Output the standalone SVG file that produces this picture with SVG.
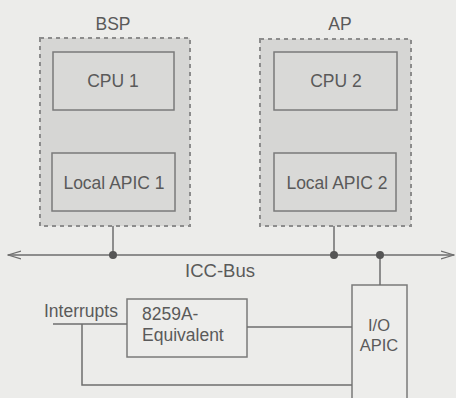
<svg xmlns="http://www.w3.org/2000/svg" width="456" height="398" viewBox="0 0 456 398">
<style>
.t{font-family:"Liberation Sans",Arial,sans-serif;font-size:17.5px;fill:#5a5a5a}
.grp{fill:#d6d6d4;stroke:#8c8c8c;stroke-width:2;stroke-dasharray:4 4}
.box{fill:#d9d9d7;stroke:#7a7a7a;stroke-width:1.5}
.wbox{fill:#ededeb;stroke:#7a7a7a;stroke-width:1.5}
.ln{stroke:#6e6e6e;stroke-width:1.5;fill:none}
.dot{fill:#555}
</style>
<defs>
<marker id="arr" markerWidth="14" markerHeight="10" refX="13" refY="5" orient="auto-start-reverse" markerUnits="userSpaceOnUse">
<path d="M0,1 L13,5 L0,9" fill="none" stroke="#6e6e6e" stroke-width="1.3"/>
</marker>
</defs>
<rect width="456" height="398" fill="#ececea"/>
<g id="bsp">
<text class="t" x="113" y="30" text-anchor="middle">BSP</text>
<rect class="grp" x="40" y="38" width="150" height="188"/>
</g>
<g id="cpu1">
<rect class="box" x="53" y="52" width="121" height="58"/>
<text class="t" x="113" y="87" text-anchor="middle">CPU 1</text>
</g>
<g id="lapic1">
<rect class="box" x="52" y="153" width="123" height="58"/>
<text class="t" x="114" y="189" text-anchor="middle">Local APIC 1</text>
</g>
<g id="ap">
<text class="t" x="340" y="30" text-anchor="middle">AP</text>
<rect class="grp" x="260" y="39" width="151" height="187"/>
</g>
<g id="cpu2">
<rect class="box" x="274" y="52" width="123" height="58"/>
<text class="t" x="336" y="87" text-anchor="middle">CPU 2</text>
</g>
<g id="lapic2">
<rect class="box" x="274" y="153" width="122" height="58"/>
<text class="t" x="337" y="189" text-anchor="middle">Local APIC 2</text>
</g>
<g id="pic">
<rect class="wbox" x="127" y="299" width="120" height="58"/>
<text class="t" x="142" y="320">8259A-</text>
<text class="t" x="142" y="341">Equivalent</text>
</g>
<g id="ioapic">
<rect class="wbox" x="352" y="285" width="55" height="120"/>
<text class="t" x="379" y="331" text-anchor="middle" style="font-size:16.5px">I/O</text>
<text class="t" x="379" y="351" text-anchor="middle" style="font-size:16.5px">APIC</text>
</g>
<g id="interrupts">
<text class="t" x="44" y="317">Interrupts</text>
</g>
<g id="connectors">
<line class="ln" x1="8" y1="255" x2="454" y2="255" marker-start="url(#arr)" marker-end="url(#arr)"/>
<text class="t" x="220" y="277" text-anchor="middle" style="font-size:18.5px">ICC-Bus</text>
<line class="ln" x1="113" y1="226" x2="113" y2="255"/>
<line class="ln" x1="334" y1="226" x2="334" y2="255"/>
<line class="ln" x1="380" y1="255" x2="380" y2="285"/>
<circle class="dot" cx="113" cy="255" r="4"/>
<circle class="dot" cx="334" cy="255" r="4"/>
<circle class="dot" cx="380" cy="255" r="4"/>
<line class="ln" x1="247" y1="327" x2="352" y2="327"/>
<polyline class="ln" points="53,324 127,324"/>
<polyline class="ln" points="82,324 82,385 352,385"/>
</g>
</svg>
